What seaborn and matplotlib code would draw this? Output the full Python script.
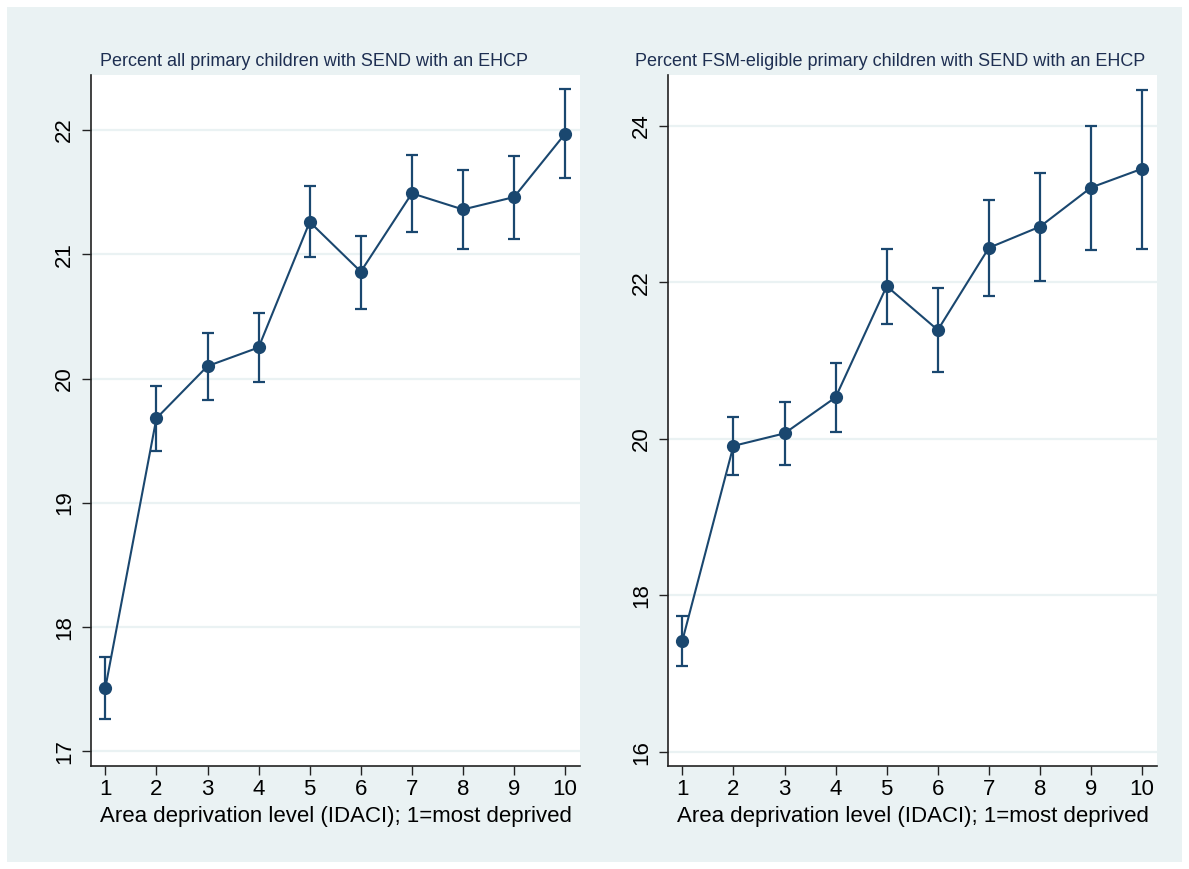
import matplotlib
matplotlib.use("Agg")
import numpy as np
import pandas as pd
import seaborn as sns
import matplotlib.pyplot as plt
from matplotlib.patches import Rectangle

# ---- data ----
levels = [1, 2, 3, 4, 5, 6, 7, 8, 9, 10]
all_mean = [17.51, 19.68, 20.10, 20.25, 21.26, 20.86, 21.49, 21.36, 21.46, 21.97]
all_lo = [17.26, 19.42, 19.83, 19.97, 20.98, 20.56, 21.18, 21.04, 21.12, 21.61]
all_hi = [17.76, 19.94, 20.37, 20.53, 21.55, 21.15, 21.80, 21.68, 21.79, 22.33]
fsm_mean = [17.42, 19.91, 20.07, 20.53, 21.95, 21.39, 22.44, 22.71, 23.21, 23.45]
fsm_lo = [17.10, 19.54, 19.67, 20.09, 21.47, 20.85, 21.83, 22.02, 22.41, 22.43]
fsm_hi = [17.74, 20.28, 20.47, 20.97, 22.43, 21.93, 23.05, 23.39, 24.00, 24.46]

title_all = "Percent all primary children with SEND with an EHCP"
title_fsm = "Percent FSM-eligible primary children with SEND with an EHCP"
xlabel = "Area deprivation level (IDACI); 1=most deprived"
yticks_all = [17, 18, 19, 20, 21, 22]
yticks_fsm = [16, 18, 20, 22, 24]

sns.set_theme(style="white")
plt.rcParams['font.family'] = ['Liberation Sans', 'DejaVu Sans']

NAVY = "#1A476F"
BG = "#EAF2F3"
GRID = "#EAF2F3"
TITLE_C = "#1E2F52"

W, H = 1189, 869
fig = plt.figure(figsize=(W / 100, H / 100), dpi=100, facecolor="white")
fig.patches.append(Rectangle((7 / W, 7 / H), (1182 - 7) / W, (862 - 7) / H,
                             transform=fig.transFigure, facecolor=BG,
                             edgecolor="none", zorder=-10))

def px_axes(x0, x1, ytop, ybot):
    return fig.add_axes([x0 / W, (H - ybot) / H, (x1 - x0) / W, (ybot - ytop) / H])

ax1 = px_axes(91, 580, 75, 766)
ax2 = px_axes(668, 1157, 75, 766)

panels = [
    (ax1, all_mean, all_lo, all_hi, yticks_all, (16.883, 22.442), title_all, 314),
    (ax2, fsm_mean, fsm_lo, fsm_hi, yticks_fsm, (15.822, 24.647), title_fsm, 890),
]

for ax, mean, lo, hi, yt, ylim, title, tx in panels:
    df = pd.DataFrame({"level": levels, "mean": mean, "lo": lo, "hi": hi})
    ax.set_facecolor("white")
    yerr = np.vstack([df["mean"] - df["lo"], df["hi"] - df["mean"]])
    ax.errorbar(df["level"], df["mean"], yerr=yerr, fmt="none", ecolor=NAVY,
                elinewidth=1.6, capsize=4.5, capthick=1.6, zorder=3)
    sns.lineplot(data=df, x="level", y="mean", ax=ax, color=NAVY, linewidth=1.5,
                 marker="o", markersize=9.5, markeredgewidth=0,
                 markerfacecolor=NAVY, zorder=4)
    ax.set_xlim(0.72, 10.29)
    ax.set_ylim(*ylim)
    ax.set_xticks(levels)
    ax.set_yticks(yt)
    ax.set_yticklabels([str(v) for v in yt])
    ax.grid(axis="y", color=GRID, linewidth=1.6, zorder=0)
    ax.grid(axis="x", visible=False)
    for s in ["top", "right"]:
        ax.spines[s].set_visible(False)
    for s in ["left", "bottom"]:
        ax.spines[s].set_visible(True)
        ax.spines[s].set_color("#222222")
        ax.spines[s].set_linewidth(1.2)
    ax.tick_params(axis="both", which="major", direction="out", length=6.5,
                   width=1.0, color="#222222", labelsize=16, labelcolor="black",
                   left=True, bottom=True)
    ax.tick_params(axis="y", labelrotation=90, pad=5)
    ax.tick_params(axis="x", pad=3)
    for lab in ax.get_yticklabels():
        lab.set_va("center")
    ax.set_xlabel(xlabel, fontsize=16, color="black", labelpad=4)
    ax.set_ylabel("")
    fig.text(tx / W, (H - 62) / H, title, ha="center", va="center",
             fontsize=13, color=TITLE_C)

fig.savefig("out.png", dpi=100, facecolor="white")
